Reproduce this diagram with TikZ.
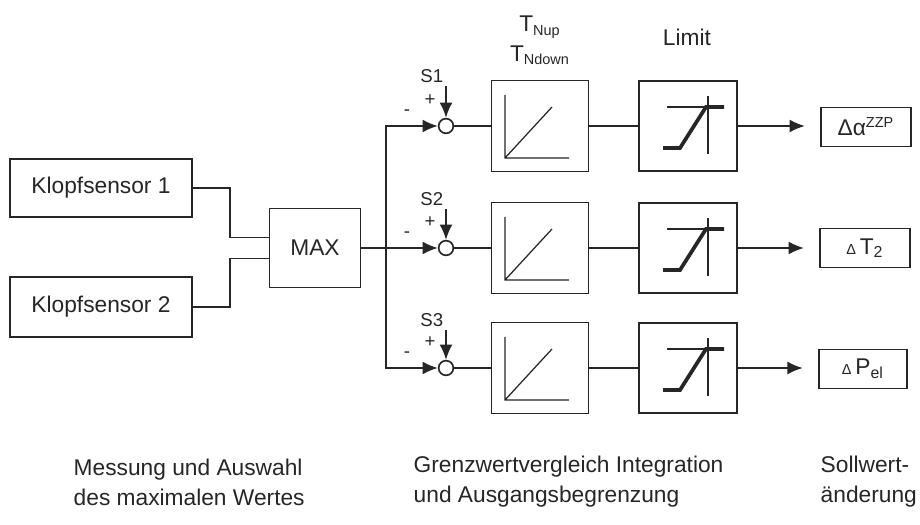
\documentclass[tikz,border=0pt]{standalone}
\usepackage{fontspec}
\setmainfont{Liberation Sans}
\usetikzlibrary{positioning,arrows.meta}

\begin{document}
\begin{tikzpicture}[x=0.017cm, y=-0.017cm, >={Latex[length=2.6mm, width=2.2mm]},
  color=black!85, line width=0.8pt,
  every node/.style={font=\fontsize{11}{14.5}\selectfont},
  blk/.style={draw, fill=white, inner sep=0pt},
  sumpt/.style={draw, circle, fill=white, inner sep=0pt, minimum size=0.25cm},
  sig/.style={font=\small, inner sep=1pt},
  glyph/.style={line width=0.6pt},
  sat/.style={line width=1.8pt}]
  \useasboundingbox (0,0) rectangle (920,525);

  % sensors and maximum
  \node[blk, minimum width=3.09cm, minimum height=0.99cm] (ks1) at (101,188) {Klopfsensor 1};
  \node[blk, minimum width=3.09cm, minimum height=1.02cm] (ks2) at (101,307) {Klopfsensor 2};
  \node[blk, minimum width=1.55cm, minimum height=1.34cm] (max) at (315,248) {MAX};
  \draw (ks1.east) -- ++(37,0) |- ([yshift=0.18cm]max.west);
  \draw (ks2.east) -- ++(37,0) |- ([yshift=-0.18cm]max.west);

  % comparison, integration, limit
  \node[sumpt] (s1) at (446,126) {};
  \node[sumpt] (s2) at (446,248) {};
  \node[sumpt] (s3) at (446,368) {};
  \node[blk, minimum width=1.65cm, minimum height=1.55cm] (int1) at (540,126) {};
  \node[blk, minimum width=1.65cm, minimum height=1.55cm] (int2) at (540,248) {};
  \node[blk, minimum width=1.65cm, minimum height=1.55cm] (int3) at (540,368) {};
  \node[blk, minimum width=1.67cm, minimum height=1.53cm] (lim1) at (688,126) {};
  \node[blk, minimum width=1.67cm, minimum height=1.53cm] (lim2) at (688,248) {};
  \node[blk, minimum width=1.67cm, minimum height=1.53cm] (lim3) at (688,368) {};
  \node[blk, minimum width=1.53cm, minimum height=0.66cm] (out1) at (866,127) {Δα\textsuperscript{\scriptsize ZZP}};
  \node[blk, minimum width=1.53cm, minimum height=0.66cm] (out2) at (865,248) {{\scriptsize Δ}\,T\textsubscript{2}};
  \node[blk, minimum width=1.50cm, minimum height=0.66cm] (out3) at (863,369) {{\scriptsize Δ}\,P\textsubscript{el}};

  \node (tnup) at (540,27) {T\textsubscript{\scriptsize Nup}};
  \node (tndown) at (540,55) {T\textsubscript{\scriptsize Ndown}};
  \node (limit) at (687,37) {Limit};

  % distribution to the three channels
  \coordinate (br) at (386,248);
  \draw[->] (max.east) -- (s2);
  \draw[->] (br) |- (s1);
  \draw[->] (br) |- (s3);

  \coordinate (s1in) at (446,86);
  \coordinate (s2in) at (446,209);
  \coordinate (s3in) at (446,330);
  \node[sig, anchor=south east] (s1lbl) at (s1in) {S1};
  \node[sig, anchor=south east] (s2lbl) at (s2in) {S2};
  \node[sig, anchor=south east] (s3lbl) at (s3in) {S3};
  \draw[->] (s1in) -- (s1);
  \draw[->] (s2in) -- (s2);
  \draw[->] (s3in) -- (s3);
  \node[sig] (p1) at (430,100) {+};
  \node[sig] (p2) at (430,222) {+};
  \node[sig] (p3) at (430,342) {+};
  \node[sig] (m1) at (407,113) {-};
  \node[sig] (m2) at (407,235) {-};
  \node[sig] (m3) at (407,355) {-};

  \draw (s1) -- (int1);  \draw (int1) -- (lim1);
  \draw (s2) -- (int2);  \draw (int2) -- (lim2);
  \draw (s3) -- (int3);  \draw (int3) -- (lim3);
  \draw[->, shorten >=0.26cm] (lim1) -- (out1.west |- lim1);
  \draw[->, shorten >=0.26cm] (lim2) -- (out2.west |- lim2);
  \draw[->, shorten >=0.26cm] (lim3) -- (out3.west |- lim3);

  % integrator symbols
  \begin{scope}[shift={(int1.center)}]
    \draw[glyph] (-35,-31) -- (-35,32) -- (29,32) (-35,32) -- (12,-19);
  \end{scope}
  \begin{scope}[shift={(int2.center)}]
    \draw[glyph] (-35,-31) -- (-35,32) -- (29,32) (-35,32) -- (12,-19);
  \end{scope}
  \begin{scope}[shift={(int3.center)}]
    \draw[glyph] (-35,-31) -- (-35,32) -- (29,32) (-35,32) -- (12,-19);
  \end{scope}

  % limiter symbols
  \begin{scope}[shift={(lim1.center)}]
    \draw[glyph] (20,-30) -- (20,28) (-21,-19) -- (36,-19);
    \draw[sat] (-25,22) -- (-8,22) -- (18,-19) -- (36,-19);
  \end{scope}
  \begin{scope}[shift={(lim2.center)}]
    \draw[glyph] (20,-30) -- (20,28) (-21,-19) -- (36,-19);
    \draw[sat] (-25,22) -- (-8,22) -- (18,-19) -- (36,-19);
  \end{scope}
  \begin{scope}[shift={(lim3.center)}]
    \draw[glyph] (20,-30) -- (20,28) (-21,-19) -- (36,-19);
    \draw[sat] (-25,22) -- (-8,22) -- (18,-19) -- (36,-19);
  \end{scope}

  % captions
  \node[anchor=west, align=left] (capmess) at (66,482) {Messung und Auswahl\\des maximalen Wertes};
  \node[anchor=west, align=left] (capgrenz) at (406,482) {Grenzwertvergleich Integration\\und Ausgangsbegrenzung};
  \node[anchor=west, align=left] (capsoll) at (813,482) {Sollwert-\\änderung};
\end{tikzpicture}
\end{document}
